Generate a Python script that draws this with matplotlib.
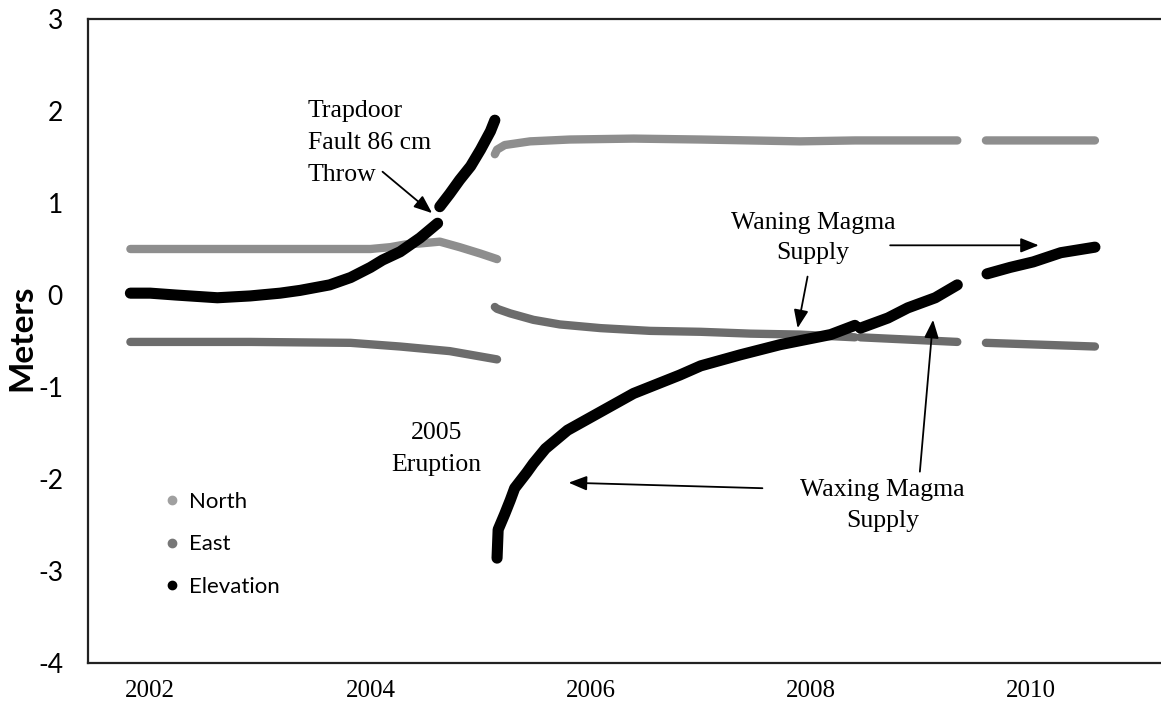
import numpy as np
import matplotlib
matplotlib.use("Agg")
import matplotlib.pyplot as plt
from matplotlib.lines import Line2D

nan = np.nan

# GPS time series (decimal year, metres); NaN marks a gap in the record
north_year = [2001.82, 2002.50, 2003.36, 2004.00, 2004.18, 2004.32, 2004.45, 2004.63,
              2004.81, 2005.00, 2005.15, nan,
              2005.13, 2005.15, 2005.22, 2005.45, 2005.81, 2006.39, 2007.00, 2007.90,
              2008.40, 2009.33, nan,
              2009.59, 2010.09, 2010.58]
north_m = [0.50, 0.50, 0.50, 0.50, 0.52, 0.55, 0.56, 0.58,
           0.52, 0.45, 0.39, nan,
           1.53, 1.58, 1.63, 1.67, 1.69, 1.70, 1.69, 1.67,
           1.68, 1.68, nan,
           1.68, 1.68, 1.68]

east_year = [2001.82, 2002.91, 2003.82, 2004.27, 2004.72, 2005.15, nan,
             2005.13, 2005.15, 2005.27, 2005.48, 2005.72, 2006.09, 2006.54, 2007.00,
             2007.45, 2007.90, 2008.40, nan,
             2008.45, 2009.33, nan,
             2009.59, 2010.58]
east_m = [-0.51, -0.51, -0.52, -0.56, -0.61, -0.70, nan,
          -0.13, -0.15, -0.20, -0.27, -0.32, -0.36, -0.39, -0.40,
          -0.42, -0.43, -0.46, nan,
          -0.46, -0.51, nan,
          -0.52, -0.56]

elev_year = [2001.82, 2002.00, 2002.23, 2002.61, 2002.91, 2003.18, 2003.36, 2003.63,
             2003.82, 2004.00, 2004.11, 2004.27, 2004.45, 2004.61, nan,
             2004.63, 2004.72, 2004.81, 2004.91, 2005.00, 2005.09, 2005.13, nan,
             2005.15, 2005.16, 2005.22, 2005.27, 2005.31, 2005.42, 2005.48, 2005.59,
             2005.72, 2005.79, 2006.09, 2006.39, 2006.81, 2007.00, 2007.36, 2007.72,
             2008.18, 2008.40, nan,
             2008.45, 2008.70, 2008.88, 2009.13, 2009.33, nan,
             2009.60, 2009.81, 2010.02, 2010.27, 2010.58]
elev_m = [0.02, 0.02, 0.00, -0.03, -0.01, 0.02, 0.05, 0.11,
          0.19, 0.30, 0.38, 0.47, 0.62, 0.78, nan,
          0.96, 1.10, 1.25, 1.40, 1.58, 1.78, 1.90, nan,
          -2.86, -2.55, -2.38, -2.23, -2.10, -1.93, -1.83, -1.67,
          -1.54, -1.47, -1.27, -1.07, -0.87, -0.77, -0.65, -0.54,
          -0.43, -0.33, nan,
          -0.36, -0.25, -0.14, -0.03, 0.11, nan,
          0.23, 0.30, 0.36, 0.46, 0.52]

year_ticks = [2002, 2004, 2006, 2008, 2010]
meter_ticks = [-4, -3, -2, -1, 0, 1, 2, 3]

serif = "Liberation Serif"
sans = "Lato"

fig = plt.figure(figsize=(11.61, 7.01), dpi=100)
ax = fig.add_axes([88 / 1161, 1 - 663 / 701, 1 - 88 / 1161, (663 - 19) / 701])

ax.plot(north_year, north_m, color="#8e8e8e", lw=6, solid_capstyle="round",
        solid_joinstyle="round", zorder=2)
ax.plot(east_year, east_m, color="#6c6c6c", lw=6, solid_capstyle="round",
        solid_joinstyle="round", zorder=2)
ax.plot(elev_year, elev_m, color="black", lw=8, solid_capstyle="round",
        solid_joinstyle="round", zorder=3)

ax.set_xlim(2001.435, 2011.18)
ax.set_ylim(-4, 3)
ax.set_xticks(year_ticks)
ax.set_xticklabels([str(y) for y in year_ticks], fontfamily=serif, fontsize=18)
ax.set_yticks(meter_ticks)
ax.set_yticklabels([str(m) for m in meter_ticks], fontfamily=sans, fontsize=19)
ax.tick_params(axis="both", length=0)
ax.tick_params(axis="y", pad=18)
ax.tick_params(axis="x", pad=12)
for side in ["left", "bottom", "top"]:
    ax.spines[side].set_linewidth(1.6)
    ax.spines[side].set_color("#222222")
ax.spines["right"].set_visible(False)

fig.text(22 / 1161, 1 - 338 / 701, "Meters", rotation=90, ha="center", va="center",
         fontfamily=sans, fontweight="bold", fontsize=24)

# annotations
txt = dict(fontfamily=serif, fontsize=18.5, color="black")
arr = dict(arrowstyle="-|>,head_length=0.55,head_width=0.22", color="black", lw=1.3,
           mutation_scale=20, shrinkA=0, shrinkB=0)

ax.text(2003.43, 2.12, "Trapdoor\nFault 86 cm\nThrow", ha="left", va="top",
        linespacing=1.58, **txt)
ax.annotate("", xy=(2004.56, 0.89), xytext=(2004.11, 1.34), arrowprops=arr)

ax.text(2004.60, -1.67, "2005\nEruption", ha="center", va="center",
        multialignment="center", linespacing=1.6, **txt)

ax.text(2008.02, 0.62, "Waning Magma\nSupply", ha="center", va="center",
        multialignment="center", linespacing=1.5, **txt)
ax.annotate("", xy=(2007.88, -0.36), xytext=(2007.97, 0.20), arrowprops=arr)
ax.annotate("", xy=(2010.07, 0.54), xytext=(2008.72, 0.54), arrowprops=arr)

ax.text(2008.65, -2.29, "Waxing Magma\nSupply", ha="center", va="center",
        multialignment="center", linespacing=1.5, **txt)
ax.annotate("", xy=(2009.11, -0.27), xytext=(2008.99, -1.92), arrowprops=arr)
ax.annotate("", xy=(2005.80, -2.04), xytext=(2007.56, -2.10), arrowprops=arr)

handles = [
    Line2D([], [], ls="none", marker="o", ms=6, color="#a0a0a0", label="North"),
    Line2D([], [], ls="none", marker="o", ms=6, color="#777777", label="East"),
    Line2D([], [], ls="none", marker="o", ms=6, color="black", label="Elevation"),
]
ax.legend(handles=handles, loc="upper left", bbox_to_anchor=(152 / 1161, 1 - 481 / 701),
          bbox_transform=fig.transFigure, frameon=False, borderpad=0,
          handlelength=0.8, handletextpad=0.35, labelspacing=1.0,
          prop={"family": sans, "size": 16})

fig.savefig("out.png", dpi=100)
